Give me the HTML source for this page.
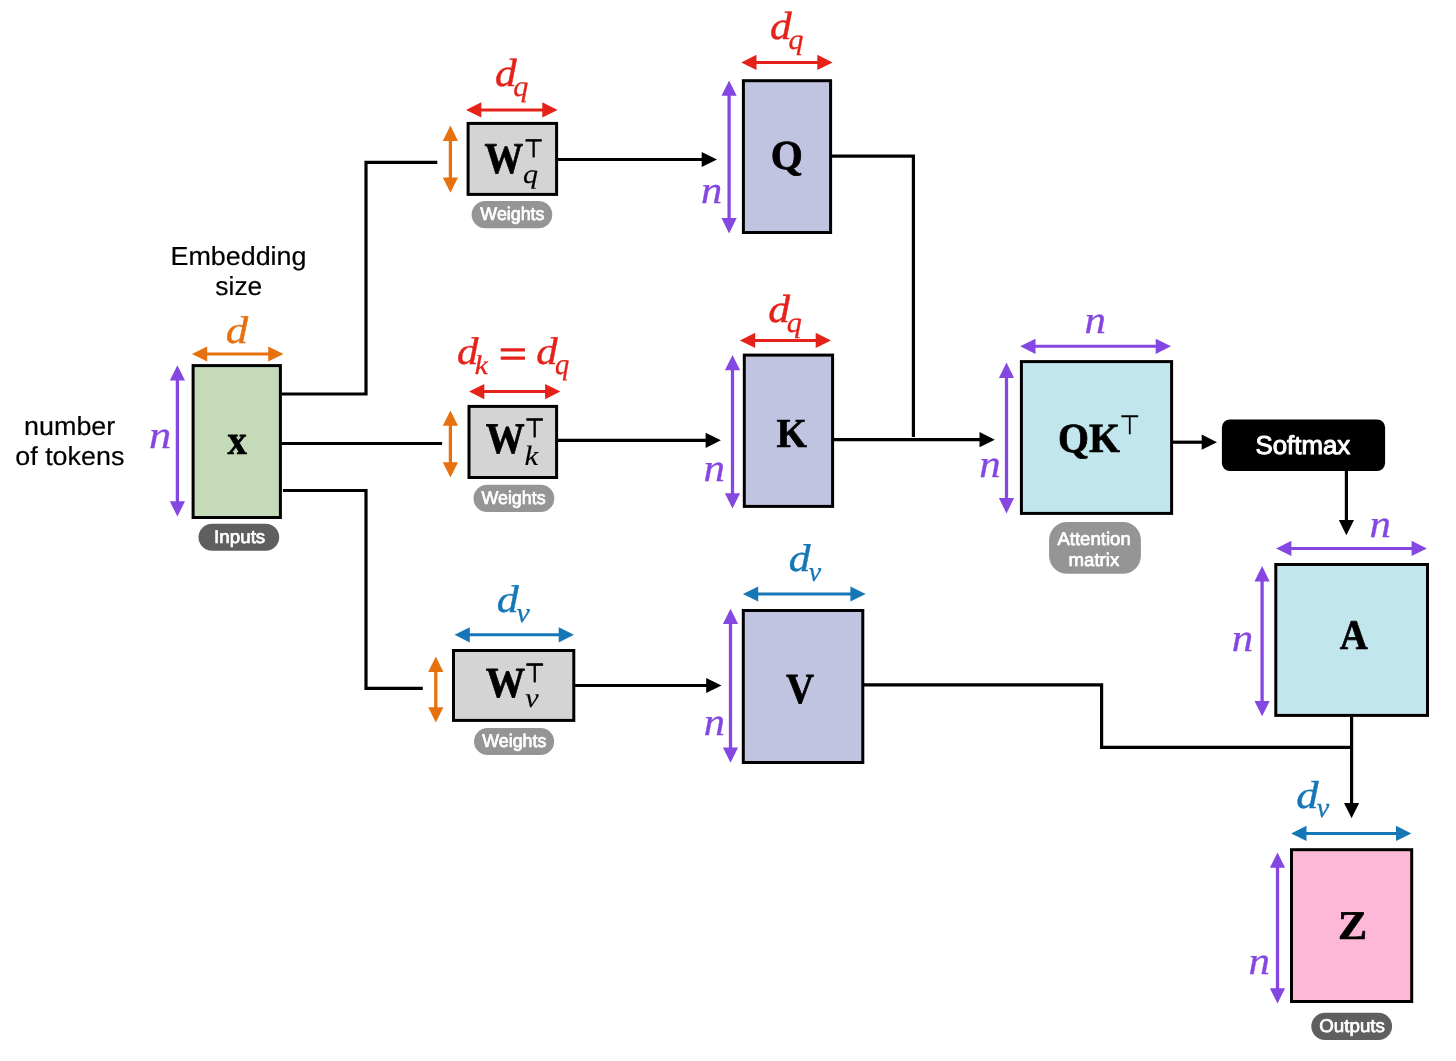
<!DOCTYPE html>
<html lang="en"><head><meta charset="utf-8"><title>Self-attention diagram</title>
<style>
html,body{margin:0;padding:0;background:#fff;}
body{width:1456px;height:1061px;overflow:hidden;}
svg{display:block;will-change:transform;}
text{stroke-linejoin:round;text-rendering:geometricPrecision;}
.sans{font-family:"Liberation Sans",sans-serif;}
.sansb{font-family:"Liberation Sans",sans-serif;font-weight:bold;}
.dj{font-family:"DejaVu Sans","Liberation Sans",sans-serif;}
.bold{font-family:"Liberation Serif",serif;font-weight:bold;}
.ital{font-family:"Liberation Serif",serif;font-style:italic;}
</style></head><body>
<svg width="1456" height="1061" viewBox="0 0 1456 1061">
<rect width="1456" height="1061" fill="#fff"/>
<path d="M282 394H366V162.4H437.3" fill="none" stroke="#000" stroke-width="3.2" stroke-linejoin="miter"/>
<path d="M282 443.5H442.1" fill="none" stroke="#000" stroke-width="3.2" stroke-linejoin="miter"/>
<path d="M283 490.5H366V688.3H422.8" fill="none" stroke="#000" stroke-width="3.2" stroke-linejoin="miter"/>
<path d="M557 159.5H702.7" stroke="#000" stroke-width="3.2" fill="none"/>
<path d="M717 159.5L701.7 151.9V167.1Z" fill="#000"/>
<path d="M557 440.3H706.6" stroke="#000" stroke-width="3.2" fill="none"/>
<path d="M720.9 440.3L705.6 432.7V447.9Z" fill="#000"/>
<path d="M575 685.5H707.2" stroke="#000" stroke-width="3.2" fill="none"/>
<path d="M721.5 685.5L706.2 677.9V693.1Z" fill="#000"/>
<path d="M831 156.1H913.4V437.1" fill="none" stroke="#000" stroke-width="3.2" stroke-linejoin="miter"/>
<path d="M833 439.7H980.5" stroke="#000" stroke-width="3.2" fill="none"/>
<path d="M994.8 439.7L979.5 432.1V447.3Z" fill="#000"/>
<path d="M1172 442.2H1202.7" stroke="#000" stroke-width="3.2" fill="none"/>
<path d="M1217 442.2L1201.7 434.6V449.8Z" fill="#000"/>
<path d="M1346.4 470V520.9" stroke="#000" stroke-width="3.2" fill="none"/>
<path d="M1346.4 535.2L1338.8 519.9H1354Z" fill="#000"/>
<path d="M863 684.9H1101.6V747.3H1351.6" fill="none" stroke="#000" stroke-width="3.2" stroke-linejoin="miter"/>
<path d="M1351.6 716V803.9" stroke="#000" stroke-width="3.2" fill="none"/>
<path d="M1351.6 818.2L1344 802.9H1359.2Z" fill="#000"/>
<rect x="193.1" y="365.6" width="87.3" height="151.9" fill="#c4dab8" stroke="#000" stroke-width="3.0"/>
<path d="M206.2 354H269.2" stroke="#e8710f" stroke-width="3.0" fill="none"/>
<path d="M191.9 354L207.2 346.4V361.6ZM283.5 354L268.2 346.4V361.6Z" fill="#e8710f"/>
<path d="M177.4 379.6V502.3" stroke="#8447e2" stroke-width="3.3" fill="none"/>
<path d="M177.4 365.3L169.8 380.6H185ZM177.4 516.6L169.8 501.3H185Z" fill="#8447e2"/>
<text transform="translate(225.65 342.81) scale(1.16 1)" class="ital" font-size="38.49" fill="#e8710f" stroke="#e8710f" stroke-width="0.4">d</text>
<text transform="translate(148.97 448.25) scale(1.14 1)" class="ital" font-size="39.05" fill="#8447e2" stroke="#8447e2" stroke-width="0.3">n</text>
<text transform="translate(227.6 454.35) scale(0.93 1)" class="bold" font-size="41.61" fill="#000" stroke="#000" stroke-width="0.7">x</text>
<rect x="198.5" y="523.8" width="80.7" height="27" rx="13.5" ry="13.5" fill="#5f5f5f"/>
<text transform="translate(214.12 542.85) scale(1.02 1)" class="sans" font-size="18.4" fill="#fff" stroke="#fff" stroke-width="0.7">Inputs</text>
<text transform="translate(170.5 264.8) scale(1.03 1)" class="sans" font-size="26.1" fill="#000" stroke="#000" stroke-width="0.2">Embedding</text>
<text transform="translate(215.37 294.8) scale(1.01 1)" class="sans" font-size="26.1" fill="#000" stroke="#000" stroke-width="0.2">size</text>
<text transform="translate(24.12 435.1) scale(1.03 1)" class="sans" font-size="26.1" fill="#000" stroke="#000" stroke-width="0.2">number</text>
<text transform="translate(15.27 465) scale(1.03 1)" class="sans" font-size="26.1" fill="#000" stroke="#000" stroke-width="0.2">of tokens</text>
<rect x="468.1" y="123.4" width="88.5" height="71" fill="#d4d4d4" stroke="#000" stroke-width="3.0"/>
<path d="M480.3 109.9H543.3" stroke="#e5221a" stroke-width="3.0" fill="none"/>
<path d="M466 109.9L481.3 102.3V117.5ZM557.6 109.9L542.3 102.3V117.5Z" fill="#e5221a"/>
<path d="M450.4 139.9V178.5" stroke="#e8710f" stroke-width="3.3" fill="none"/>
<path d="M450.4 125.6L442.8 140.9H458ZM450.4 192.8L442.8 177.5H458Z" fill="#e8710f"/>
<text transform="translate(494.89 85.6) scale(1.1 1)" class="ital" font-size="39.34" fill="#e5221a" stroke="#e5221a" stroke-width="0.4">d</text>
<text transform="translate(513.35 95.73) scale(1.03 1)" class="ital" font-size="29.24" fill="#e5221a" stroke="#e5221a" stroke-width="0.3">q</text>
<text transform="translate(484.6 172.88) scale(0.88 1)" class="bold" font-size="44.03" fill="#000" stroke="#000" stroke-width="0.7">W</text>
<text transform="translate(523.97 157.15) scale(0.89 1)" class="dj" font-size="24.85" fill="#000" stroke="#000" stroke-width="0.9">⊤</text>
<text transform="translate(522.98 182.81) scale(1.12 1)" class="ital" font-size="26.82" fill="#000" stroke="#000" stroke-width="0.15">q</text>
<rect x="471.6" y="200.9" width="80.7" height="27.4" rx="13.7" ry="13.7" fill="#959595"/>
<text transform="translate(480.37 219.75) scale(0.97 1)" class="sans" font-size="18.4" fill="#fff" stroke="#fff" stroke-width="0.7">Weights</text>
<rect x="469" y="406.4" width="87.6" height="71.1" fill="#d4d4d4" stroke="#000" stroke-width="3.0"/>
<path d="M483.3 391.6H546.1" stroke="#e5221a" stroke-width="3.0" fill="none"/>
<path d="M469 391.6L484.3 384V399.2ZM560.4 391.6L545.1 384V399.2Z" fill="#e5221a"/>
<path d="M450.4 424.7V463.2" stroke="#e8710f" stroke-width="3.3" fill="none"/>
<path d="M450.4 410.4L442.8 425.7H458ZM450.4 477.5L442.8 462.2H458Z" fill="#e8710f"/>
<text transform="translate(456.9 363.91) scale(1.11 1)" class="ital" font-size="38.49" fill="#e5221a" stroke="#e5221a" stroke-width="0.4">d</text>
<text transform="translate(474.81 373.95) scale(1.08 1)" class="ital" font-size="27.1" fill="#e5221a" stroke="#e5221a" stroke-width="0.3">k</text>
<text transform="translate(498.8 363.99) scale(1.6 1)" class="sansb" font-size="30.16" fill="#e5221a">=</text>
<text transform="translate(536.3 363.91) scale(1.11 1)" class="ital" font-size="38.49" fill="#e5221a" stroke="#e5221a" stroke-width="0.4">d</text>
<text transform="translate(555.11 373.83) scale(0.96 1)" class="ital" font-size="29.67" fill="#e5221a" stroke="#e5221a" stroke-width="0.3">q</text>
<text transform="translate(485.8 452.79) scale(0.89 1)" class="bold" font-size="43.74" fill="#000" stroke="#000" stroke-width="0.7">W</text>
<text transform="translate(524.8 437.35) scale(0.87 1)" class="dj" font-size="26.14" fill="#000" stroke="#000" stroke-width="0.9">⊤</text>
<text transform="translate(524.59 464.62) scale(1.09 1)" class="ital" font-size="28.18" fill="#000" stroke="#000" stroke-width="0.15">k</text>
<rect x="473.5" y="484.8" width="80.8" height="27.2" rx="13.6" ry="13.6" fill="#959595"/>
<text transform="translate(481.47 503.65) scale(0.97 1)" class="sans" font-size="18.4" fill="#fff" stroke="#fff" stroke-width="0.7">Weights</text>
<rect x="453.5" y="650.5" width="120.3" height="69.9" fill="#d4d4d4" stroke="#000" stroke-width="3.0"/>
<path d="M468.8 634.8H559.7" stroke="#1677b7" stroke-width="3.0" fill="none"/>
<path d="M454.5 634.8L469.8 627.2V642.4ZM574 634.8L558.7 627.2V642.4Z" fill="#1677b7"/>
<path d="M435.8 670.9V708.2" stroke="#e8710f" stroke-width="3.3" fill="none"/>
<path d="M435.8 656.6L428.2 671.9H443.4ZM435.8 722.5L428.2 707.2H443.4Z" fill="#e8710f"/>
<text transform="translate(496.77 612.31) scale(1.14 1)" class="ital" font-size="38.49" fill="#1677b7" stroke="#1677b7" stroke-width="0.4">d</text>
<text transform="translate(516.54 622.08) scale(1.06 1)" class="ital" font-size="28.16" fill="#1677b7" stroke="#1677b7" stroke-width="0.3">v</text>
<text transform="translate(485.79 697.2) scale(0.92 1)" class="bold" font-size="42.84" fill="#000" stroke="#000" stroke-width="0.7">W</text>
<text transform="translate(524.69 681.55) scale(0.88 1)" class="dj" font-size="25.99" fill="#000" stroke="#000" stroke-width="0.9">⊤</text>
<text transform="translate(525.26 706.65) scale(1.09 1)" class="ital" font-size="27.84" fill="#000" stroke="#000" stroke-width="0.15">v</text>
<rect x="474" y="727.9" width="80.2" height="27.2" rx="13.6" ry="13.6" fill="#959595"/>
<text transform="translate(482.27 746.75) scale(0.97 1)" class="sans" font-size="18.4" fill="#fff" stroke="#fff" stroke-width="0.7">Weights</text>
<rect x="743.4" y="80.7" width="87.2" height="151.8" fill="#c1c4e0" stroke="#000" stroke-width="3.0"/>
<path d="M755.5 62.4H818.3" stroke="#e5221a" stroke-width="3.0" fill="none"/>
<path d="M741.2 62.4L756.5 54.8V70ZM832.6 62.4L817.3 54.8V70Z" fill="#e5221a"/>
<path d="M729.1 94.8V219.1" stroke="#8447e2" stroke-width="3.3" fill="none"/>
<path d="M729.1 80.5L721.5 95.8H736.7ZM729.1 233.4L721.5 218.1H736.7Z" fill="#8447e2"/>
<text transform="translate(769.89 39) scale(1.1 1)" class="ital" font-size="39.34" fill="#e5221a" stroke="#e5221a" stroke-width="0.4">d</text>
<text transform="translate(788.45 48.98) scale(1.05 1)" class="ital" font-size="28.51" fill="#e5221a" stroke="#e5221a" stroke-width="0.3">q</text>
<text transform="translate(700.94 202.55) scale(1.1 1)" class="ital" font-size="38.63" fill="#8447e2" stroke="#8447e2" stroke-width="0.3">n</text>
<text transform="translate(770.64 169.26) scale(1 1)" class="bold" font-size="41.25" fill="#000" stroke="#000" stroke-width="0.7">Q</text>
<rect x="744.3" y="355.1" width="88.3" height="151.3" fill="#c1c4e0" stroke="#000" stroke-width="3.0"/>
<path d="M754.2 340.4H816.7" stroke="#e5221a" stroke-width="3.0" fill="none"/>
<path d="M739.9 340.4L755.2 332.8V348ZM831 340.4L815.7 332.8V348Z" fill="#e5221a"/>
<path d="M732.5 369.3V494.2" stroke="#8447e2" stroke-width="3.3" fill="none"/>
<path d="M732.5 355L724.9 370.3H740.1ZM732.5 508.5L724.9 493.2H740.1Z" fill="#8447e2"/>
<text transform="translate(768.19 321.7) scale(1.11 1)" class="ital" font-size="39.2" fill="#e5221a" stroke="#e5221a" stroke-width="0.4">d</text>
<text transform="translate(786.65 331.78) scale(1.06 1)" class="ital" font-size="28.51" fill="#e5221a" stroke="#e5221a" stroke-width="0.3">q</text>
<text transform="translate(703.42 480.95) scale(1.1 1)" class="ital" font-size="39.05" fill="#8447e2" stroke="#8447e2" stroke-width="0.3">n</text>
<text transform="translate(776.48 447.15) scale(0.95 1)" class="bold" font-size="41.23" fill="#000" stroke="#000" stroke-width="0.7">K</text>
<rect x="743.3" y="610.5" width="119.5" height="152" fill="#c1c4e0" stroke="#000" stroke-width="3.0"/>
<path d="M757.2 594H851.4" stroke="#1677b7" stroke-width="3.0" fill="none"/>
<path d="M742.9 594L758.2 586.4V601.6ZM865.7 594L850.4 586.4V601.6Z" fill="#1677b7"/>
<path d="M730.5 623V748.4" stroke="#8447e2" stroke-width="3.3" fill="none"/>
<path d="M730.5 608.7L722.9 624H738.1ZM730.5 762.7L722.9 747.4H738.1Z" fill="#8447e2"/>
<text transform="translate(788.79 571.2) scale(1.12 1)" class="ital" font-size="38.77" fill="#1677b7" stroke="#1677b7" stroke-width="0.4">d</text>
<text transform="translate(808.87 580.98) scale(0.99 1)" class="ital" font-size="28.16" fill="#1677b7" stroke="#1677b7" stroke-width="0.3">v</text>
<text transform="translate(703.83 735.05) scale(1.09 1)" class="ital" font-size="39.05" fill="#8447e2" stroke="#8447e2" stroke-width="0.3">n</text>
<text transform="translate(786.11 702.8) scale(0.91 1)" class="bold" font-size="42.84" fill="#000" stroke="#000" stroke-width="0.7">V</text>
<rect x="1021.4" y="361.6" width="150.2" height="151.8" fill="#c1e6ed" stroke="#000" stroke-width="3.0"/>
<path d="M1034.5 346.3H1156.7" stroke="#8447e2" stroke-width="3.0" fill="none"/>
<path d="M1020.2 346.3L1035.5 338.7V353.9ZM1171 346.3L1155.7 338.7V353.9Z" fill="#8447e2"/>
<path d="M1006.5 376.9V499.1" stroke="#8447e2" stroke-width="3.3" fill="none"/>
<path d="M1006.5 362.6L998.9 377.9H1014.1ZM1006.5 513.4L998.9 498.1H1014.1Z" fill="#8447e2"/>
<text transform="translate(1084.42 332.85) scale(1.1 1)" class="ital" font-size="39.05" fill="#8447e2" stroke="#8447e2" stroke-width="0.3">n</text>
<text transform="translate(979.22 477.15) scale(1.1 1)" class="ital" font-size="39.05" fill="#8447e2" stroke="#8447e2" stroke-width="0.3">n</text>
<text transform="translate(1058 451.82) scale(0.96 1)" class="bold" font-size="41.49" fill="#000" stroke="#000" stroke-width="0.7">QK</text>
<text transform="translate(1119.47 434.43) scale(0.89 1)" class="dj" font-size="26.49" fill="#000" stroke="#000" stroke-width="0.35">⊤</text>
<rect x="1049.1" y="522" width="91.8" height="51.8" rx="18" ry="18" fill="#959595"/>
<text transform="translate(1057.41 544.75) scale(1.01 1)" class="sans" font-size="18.4" fill="#fff" stroke="#fff" stroke-width="0.7">Attention</text>
<text transform="translate(1068.61 565.55) scale(1.01 1)" class="sans" font-size="18.4" fill="#fff" stroke="#fff" stroke-width="0.7">matrix</text>
<rect x="1221.9" y="419.5" width="163.2" height="51.6" rx="8" ry="8" fill="#000"/>
<text transform="translate(1255.43 453.55) scale(1 1)" class="sans" font-size="25.85" fill="#fff" stroke="#fff" stroke-width="1.0">Softmax</text>
<rect x="1275.8" y="564.5" width="151.7" height="150.9" fill="#c1e6ed" stroke="#000" stroke-width="3.0"/>
<path d="M1290.4 548.4H1412.6" stroke="#8447e2" stroke-width="3.0" fill="none"/>
<path d="M1276.1 548.4L1291.4 540.8V556ZM1426.9 548.4L1411.6 540.8V556Z" fill="#8447e2"/>
<path d="M1262.1 580.4V701.9" stroke="#8447e2" stroke-width="3.3" fill="none"/>
<path d="M1262.1 566.1L1254.5 581.4H1269.7ZM1262.1 716.2L1254.5 700.9H1269.7Z" fill="#8447e2"/>
<text transform="translate(1369.52 536.55) scale(1.1 1)" class="ital" font-size="39.05" fill="#8447e2" stroke="#8447e2" stroke-width="0.3">n</text>
<text transform="translate(1231.72 650.85) scale(1.1 1)" class="ital" font-size="39.05" fill="#8447e2" stroke="#8447e2" stroke-width="0.3">n</text>
<text transform="translate(1339.87 648.95) scale(0.92 1)" class="bold" font-size="42.11" fill="#000" stroke="#000" stroke-width="0.7">A</text>
<rect x="1291.5" y="849.7" width="120.2" height="151.8" fill="#fdb8d8" stroke="#000" stroke-width="3.0"/>
<path d="M1305.5 833.4H1397" stroke="#1677b7" stroke-width="3.0" fill="none"/>
<path d="M1291.2 833.4L1306.5 825.8V841ZM1411.3 833.4L1396 825.8V841Z" fill="#1677b7"/>
<path d="M1277.5 866.7V989.2" stroke="#8447e2" stroke-width="3.3" fill="none"/>
<path d="M1277.5 852.4L1269.9 867.7H1285.1ZM1277.5 1003.5L1269.9 988.2H1285.1Z" fill="#8447e2"/>
<text transform="translate(1296.35 807.5) scale(1.14 1)" class="ital" font-size="39.06" fill="#1677b7" stroke="#1677b7" stroke-width="0.4">d</text>
<text transform="translate(1316.77 817.27) scale(0.98 1)" class="ital" font-size="28.59" fill="#1677b7" stroke="#1677b7" stroke-width="0.3">v</text>
<text transform="translate(1248.52 974.15) scale(1.1 1)" class="ital" font-size="39.05" fill="#8447e2" stroke="#8447e2" stroke-width="0.3">n</text>
<text transform="translate(1338.06 938.95) scale(1.07 1)" class="bold" font-size="40.78" fill="#000" stroke="#000" stroke-width="0.7">Z</text>
<rect x="1311.3" y="1012.7" width="80.8" height="27.3" rx="13.65" ry="13.65" fill="#5f5f5f"/>
<text transform="translate(1319.26 1032.15) scale(1.02 1)" class="sans" font-size="18.4" fill="#fff" stroke="#fff" stroke-width="0.7">Outputs</text>
</svg>
</body></html>
